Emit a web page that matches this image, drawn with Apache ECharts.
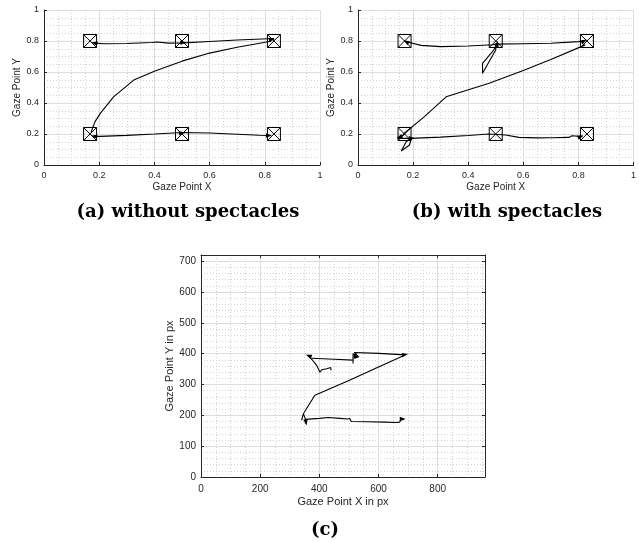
<!DOCTYPE html>
<html>
<head>
<meta charset="utf-8">
<script src="https://cdn.jsdelivr.net/npm/echarts@6/dist/echarts.min.js"></script>
<style>
  html, body { margin: 0; padding: 0; background: #fff; }
  #main { width: 639px; height: 542px; }
</style>
</head>
<body>
<div id="main"></div>
<script>
// tick values
var gazeTicks = [0, 0.2, 0.4, 0.6, 0.8, 1];
var pxTicksX = [0, 200, 400, 600, 800];
var pxTicksY = [0, 100, 200, 300, 400, 500, 600, 700];
var screenW = 960;
var screenH = 720;

// fixation targets (normalised gaze coords)
var targetsA = [[0.167, 0.8], [0.5, 0.8], [0.833, 0.8], [0.167, 0.2], [0.5, 0.2], [0.833, 0.2]];
var targetsB = [[0.169, 0.8], [0.5, 0.8], [0.831, 0.8], [0.169, 0.2], [0.5, 0.2], [0.831, 0.2]];

// (a) without spectacles - gaze traces
var aTop = [[0.834, 0.816], [0.7, 0.806], [0.6, 0.797], [0.505, 0.788], [0.45, 0.786], [0.41, 0.794], [0.39, 0.79], [0.3, 0.784], [0.22, 0.782], [0.185, 0.785]];
var aCurve = [[0.17, 0.21], [0.185, 0.28], [0.204, 0.333], [0.252, 0.44], [0.325, 0.548], [0.4, 0.605], [0.5, 0.67], [0.6, 0.722], [0.7, 0.76], [0.822, 0.798]];
var aBottom = [[0.18, 0.183], [0.3, 0.191], [0.4, 0.2], [0.5, 0.21], [0.6, 0.206], [0.7, 0.198], [0.78, 0.192], [0.822, 0.19]];
// arrow heads: x, y, direction (deg)
var aArrows = [[0.183, 0.787, 165], [0.505, 0.79, 5], [0.826, 0.81, 10], [0.182, 0.186, 165], [0.5, 0.207, 5], [0.815, 0.19, 0]];

// (b) with spectacles - gaze traces
var bTop = [[0.172, 0.797], [0.24, 0.768], [0.185, 0.79], [0.23, 0.772], [0.3, 0.764], [0.4, 0.768], [0.49, 0.776], [0.5, 0.78], [0.6, 0.782], [0.7, 0.785], [0.8, 0.796], [0.826, 0.802]];
var bZig = [[0.5, 0.78], [0.5, 0.742], [0.452, 0.592], [0.452, 0.656], [0.488, 0.731], [0.505, 0.776]];
var bDiag = [[0.165, 0.2], [0.24, 0.31], [0.32, 0.44], [0.476, 0.527], [0.6, 0.61], [0.7, 0.68], [0.825, 0.775]];
var bBottom = [[0.19, 0.172], [0.3, 0.18], [0.4, 0.19], [0.476, 0.2], [0.536, 0.194], [0.584, 0.178], [0.65, 0.175], [0.705, 0.176], [0.765, 0.178], [0.777, 0.189], [0.815, 0.183]];
var bKnot = [[0.17, 0.2], [0.145, 0.172], [0.19, 0.172], [0.175, 0.15], [0.157, 0.09], [0.187, 0.129], [0.193, 0.17]];
var bArrows = [[0.175, 0.795, 150], [0.505, 0.782, 80], [0.82, 0.8, 30], [0.15, 0.18, 200], [0.195, 0.172, 0], [0.808, 0.184, 25]];

// (c) raw gaze points in px
var cTop = [[374, 385], [450, 382], [514, 379], [514, 368], [514, 400], [520, 404], [530, 392], [521, 386], [532, 390], [518, 404], [600, 401], [690, 396]];
var cCurl = [[363, 394], [375, 381], [391, 362], [402, 340], [408, 348], [425, 351], [438, 355], [440, 346]];
var cDiag = [[690, 396], [600, 357], [500, 313], [385, 265], [346, 205]];
var cKnot = [[340, 184], [346, 205], [352, 190], [350, 186], [356, 174]];
var cBottom = [[352, 187], [400, 190], [430, 193], [470, 190], [495, 188], [503, 190], [506, 195], [508, 180], [560, 179], [620, 178], [660, 177], [672, 178], [675, 186], [684, 188]];
var cArrows = [[364, 393, 160], [526, 390, 0], [690, 397, 10], [355, 177, -80], [682, 188, 0]];

var ink = '#262626';
var sans = '"Liberation Sans", Arial, sans-serif';
var serif = '"DejaVu Serif", serif';
var boxX = 'path://M0 0H10V10H0ZM0 0L10 10M10 0L0 10';
var head = 'path://M0 0L10 5L0 10Z';

function gazeAxis(grid, name, gap, isY) {
  return {
    type: 'value', gridIndex: grid,
    min: gazeTicks[0], max: gazeTicks[gazeTicks.length - 1], interval: gazeTicks[1] - gazeTicks[0],
    position: isY ? 'left' : 'bottom',
    name: name, nameLocation: 'middle', nameGap: gap,
    nameTextStyle: { color: ink, fontSize: 10, fontFamily: sans },
    axisLine: { onZero: false, lineStyle: { color: ink, width: 1 } },
    axisTick: { inside: true, length: 3, lineStyle: { color: ink } },
    axisLabel: { color: ink, fontSize: 9, fontFamily: sans, margin: isY ? 5 : 6 },
    splitLine: { show: true, lineStyle: { color: '#dedede', width: 1 } },
    minorTick: { show: false, splitNumber: 4 },
    minorSplitLine: { show: true, lineStyle: { color: '#d2d2d2', width: 1, type: [1, 2] } }
  };
}

function pxAxis(ticks, max, name, gap, isY) {
  return {
    type: 'value', gridIndex: 2, position: isY ? 'left' : 'bottom',
    min: ticks[0], max: max, interval: ticks[1] - ticks[0],
    name: name, nameLocation: 'middle', nameGap: gap,
    nameTextStyle: { color: ink, fontSize: 11, fontFamily: sans },
    axisLine: { onZero: false, lineStyle: { color: ink, width: 1 } },
    axisTick: { inside: true, length: 3, lineStyle: { color: ink } },
    axisLabel: { color: ink, fontSize: 10, fontFamily: sans, margin: isY ? 5 : 7, showMaxLabel: false },
    splitLine: { show: true, lineStyle: { color: '#dedede', width: 1 } }
  };
}

function boxAxis(ticks, max, isY) {
  return {
    type: 'value', gridIndex: 2, position: isY ? 'right' : 'top',
    min: ticks[0], max: max, interval: ticks[1] - ticks[0],
    axisLine: { onZero: false, lineStyle: { color: ink, width: 1 } },
    axisTick: { inside: true, length: 3, lineStyle: { color: ink } },
    axisLabel: { show: false },
    splitLine: { show: false }
  };
}

function minorAxis(step, max, isY) {
  return {
    type: 'value', gridIndex: 2, position: isY ? 'left' : 'bottom', z: -1,
    min: 0, max: max, interval: step,
    axisLine: { show: false }, axisTick: { show: false }, axisLabel: { show: false },
    splitLine: { show: true, lineStyle: { color: '#d2d2d2', width: 1, type: [1, 2] } }
  };
}

function trace(data, xi, yi) {
  return { type: 'line', xAxisIndex: xi, yAxisIndex: yi, data: data, symbol: 'none',
    lineStyle: { color: '#000', width: 1.1 }, z: 4, silent: true };
}
function targets(data, xi, yi) {
  return { type: 'scatter', xAxisIndex: xi, yAxisIndex: yi, data: data, symbol: boxX, symbolSize: 13,
    itemStyle: { color: 'rgba(255,255,255,0)', borderColor: '#000', borderWidth: 1, opacity: 1 }, z: 3, silent: true };
}
function heads(data, xi, yi) {
  return { type: 'scatter', xAxisIndex: xi, yAxisIndex: yi, symbol: head, symbolSize: [6, 4.5],
    data: data.map(function (d) { return { value: [d[0], d[1]], symbolRotate: d[2] }; }),
    itemStyle: { color: '#000', opacity: 1 }, z: 5, silent: true };
}

function caption(text, x, y) {
  return { type: 'text', x: x, y: y, style: { text: text, fontSize: 18, fontWeight: 'bold', fontFamily: serif,
    fill: '#000', align: 'center', verticalAlign: 'middle' } };
}

var chart = echarts.init(document.getElementById('main'));
chart.setOption({
  animation: false,
  backgroundColor: '#fff',
  grid: [
    { left: 44, top: 10, width: 276, height: 155, containLabel: false },
    { left: 358, top: 10, width: 277, height: 155, containLabel: false },
    { left: 201, top: 255, width: 284, height: 222, containLabel: false }
  ],
  xAxis: [
    gazeAxis(0, 'Gaze Point X', 17, false),
    gazeAxis(1, 'Gaze Point X', 17, false),
    pxAxis(pxTicksX, screenW, 'Gaze Point X in px', 19, false),
    boxAxis(pxTicksX, screenW, false),
    minorAxis(50, screenW, false)
  ],
  yAxis: [
    gazeAxis(0, 'Gaze Point Y', 17, true),
    gazeAxis(1, 'Gaze Point Y', 17, true),
    pxAxis(pxTicksY, screenH, 'Gaze Point Y in px', 25, true),
    boxAxis(pxTicksY, screenH, true),
    minorAxis(20, screenH, true)
  ],
  graphic: [
    caption('(a) without spectacles', 188, 212),
    caption('(b) with spectacles', 507, 212),
    caption('(c)', 325, 530)
  ],
  series: [
    targets(targetsA, 0, 0),
    trace(aTop, 0, 0), trace(aCurve, 0, 0), trace(aBottom, 0, 0),
    heads(aArrows, 0, 0),
    targets(targetsB, 1, 1),
    trace(bTop, 1, 1), trace(bZig, 1, 1), trace(bDiag, 1, 1), trace(bBottom, 1, 1), trace(bKnot, 1, 1),
    heads(bArrows, 1, 1),
    trace(cTop, 2, 2), trace(cCurl, 2, 2), trace(cDiag, 2, 2), trace(cKnot, 2, 2), trace(cBottom, 2, 2),
    heads(cArrows, 2, 2)
  ]
});
</script>
</body>
</html>
